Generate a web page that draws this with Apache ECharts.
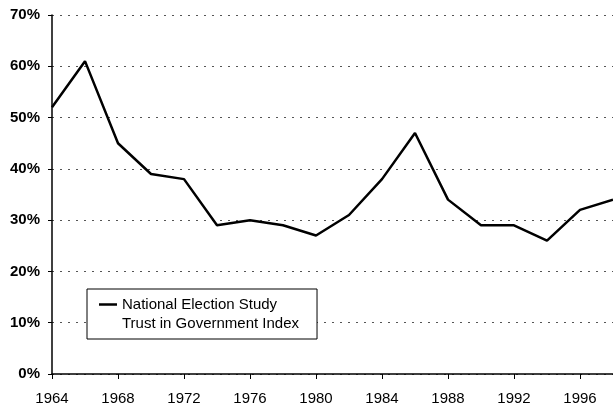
<!DOCTYPE html>
<html>
<head>
<meta charset="utf-8">
<script src="https://cdn.jsdelivr.net/npm/echarts@6/dist/echarts.min.js"></script>
<style>
html,body{margin:0;padding:0;background:#fff;}
#c{width:613px;height:408px;}
</style>
</head>
<body>
<div id="c"></div>
<script>
const years = ['1964','1966','1968','1970','1972','1974','1976','1978','1980','1982','1984','1986','1988','1990','1992','1994','1996','1998'];
const trustIndex = [52, 61, 45, 39, 38, 29, 30, 29, 27, 31, 38, 47, 34, 29, 29, 26, 32, 34];
const seriesName = 'National Election Study\nTrust in Government Index';

const font = 'Arial, "Liberation Sans", sans-serif';
const chart = echarts.init(document.getElementById('c'), null, {renderer: 'canvas'});
chart.setOption({
  animation: false,
  backgroundColor: '#fff',
  grid: {left: 52, right: 0, top: 15, bottom: 34, containLabel: false},
  legend: {
    left: 87, top: 289,
    padding: [6, 18, 6, 12],
    backgroundColor: '#fff',
    borderColor: '#000',
    borderWidth: 1,
    itemWidth: 18,
    itemHeight: 38,
    icon: 'path://M0,0H0.01V0.01H0Z M0,8.3H18V10.7H0Z M0,38H0.01V38.01H0Z',
    itemStyle: {color: '#000'},
    textStyle: {fontFamily: font, fontSize: 15, color: '#000', lineHeight: 19},
    data: [seriesName]
  },
  xAxis: {
    type: 'category',
    data: years,
    boundaryGap: false,
    axisLine: {lineStyle: {color: '#000', width: 1.5}},
    axisTick: {show: true, interval: 1, length: 5, lineStyle: {color: '#000', width: 1}},
    axisLabel: {interval: 1, margin: 17, fontFamily: font, fontSize: 15, color: '#000'},
    splitLine: {show: false}
  },
  yAxis: {
    type: 'value',
    min: 0, max: 70, interval: 10,
    axisLine: {show: true, lineStyle: {color: '#000', width: 1.5}},
    axisTick: {show: true, length: 4, lineStyle: {color: '#000'}},
    axisLabel: {formatter: '{value}%', margin: 12, fontFamily: font, fontSize: 15, fontWeight: 'bold', color: '#000'},
    splitLine: {show: true, lineStyle: {color: '#555', width: 1, type: [2, 6]}}
  },
  series: [{
    name: seriesName,
    type: 'line',
    data: trustIndex,
    symbol: 'none',
    lineStyle: {color: '#000', width: 2.5},
    itemStyle: {color: '#000'}
  }]
});
</script>
</body>
</html>
